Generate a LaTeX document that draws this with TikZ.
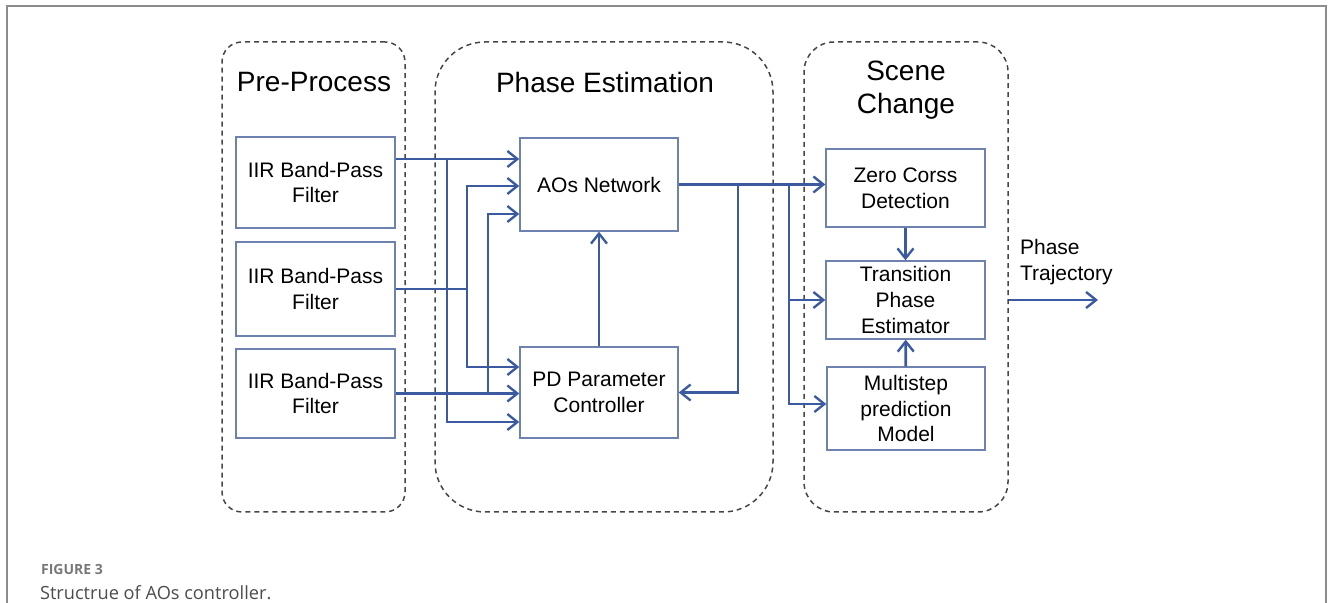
\documentclass[tikz,border=0pt]{standalone}
\usepackage{fontspec}
\setmainfont{Liberation Sans}
\newfontfamily\capfont{Open Sans}
\usepackage{tikz}
\usetikzlibrary{arrows.meta,positioning,calc}

\definecolor{flowblue}{RGB}{59,90,160}
\definecolor{boxline}{RGB}{110,130,175}
\definecolor{grpline}{RGB}{70,70,70}
\definecolor{framegray}{RGB}{140,140,140}
\definecolor{capgray}{RGB}{120,120,120}

\tikzset{
  blk/.style={draw=boxline, line width=0.7pt, fill=white, align=center,
    font=\fontsize{10.5}{12.8}\selectfont, inner sep=0pt},
  grp/.style={draw=grpline, line width=0.75pt, dash pattern=on 2.5pt off 2pt,
    minimum height=235pt},
  ttl/.style={font=\fontsize{14}{16.5}\selectfont, align=center},
  flow/.style={draw=flowblue, line width=1.4pt,
    -{Straight Barb[length=5pt,width=8pt,line width=1.2pt]}},
  wire/.style={draw=flowblue, line width=1.4pt}
}

\begin{document}
\begin{tikzpicture}[x=0.5pt,y=-0.5pt]
  \useasboundingbox (0,0) rectangle (1330,603);
  % outer frame
  \draw[framegray, line width=1.2pt] (7,603) -- (7,6) -- (1326,6) -- (1326,603);

  % groups
  \node[grp, rounded corners=10pt, minimum width=91.5pt] (gpre) at (313.5,277) {};
  \node[grp, rounded corners=25pt, minimum width=169pt] (gpe) at (604,277) {};
  \node[grp, rounded corners=15pt, minimum width=102pt] (gsc) at (906,277) {};
  \node[ttl] (tpre) at (314,82) {Pre-Process};
  \node[ttl] (tpe) at (605,82) {Phase Estimation};
  \node[ttl] (tsc) at (906,90) {Scene\\Change};

  % blocks
  \node[blk, minimum width=79.5pt, minimum height=45.5pt] (f1) at (315.5,182.5) {IIR Band-Pass\\Filter};
  \node[blk, minimum width=79.5pt, minimum height=47pt] (f2) at (315.5,289) {IIR Band-Pass\\Filter};
  \node[blk, minimum width=79.5pt, minimum height=44.5pt] (f3) at (315.5,393.5) {IIR Band-Pass\\Filter};
  \node[blk, minimum width=79pt, minimum height=46.5pt] (aos) at (599,184.5) {AOs Network};
  \node[blk, minimum width=79pt, minimum height=45.5pt] (pd) at (599,392.5) {PD Parameter\\Controller};
  \node[blk, minimum width=79.5pt, minimum height=39pt] (zc) at (905.5,188) {Zero Corss\\Detection};
  \node[blk, minimum width=79.5pt, minimum height=39pt] (tpest) at (905.5,300) {Transition\\Phase\\Estimator};
  \node[blk, minimum width=79pt, minimum height=41.5pt] (msp) at (906,408.5) {Multistep\\prediction\\Model};
  \node[ttl, font=\fontsize{10.5}{12.8}\selectfont, align=left, anchor=west] (traj) at (1013,262) {Phase\\Trajectory};

  % branch points
  \coordinate (b1) at (447,159);
  \coordinate (b1d) at (447,422);
  \coordinate (b2) at (467,289);
  \coordinate (b2u) at (467,186);
  \coordinate (b2d) at (467,367);
  \coordinate (b3) at (488,393.5);
  \coordinate (b3u) at (488,214);
  \coordinate (c1) at (738,184.5);
  \coordinate (c2) at (789,184.5);
  \coordinate (c2d) at (789,404);
  \coordinate (out) at (1098,300);

  % filters to estimation
  \draw[flow] (f1.east |- b1) -- (aos.west |- b1);
  \draw[flow] (b1) -- (b1d) -- (pd.west |- b1d);
  \draw[wire] (f2.east) -- (b2);
  \draw[flow] (b2) -- (b2u) -- (aos.west |- b2u);
  \draw[flow] (b2) -- (b2d) -- (pd.west |- b2d);
  \draw[flow] (f3.east) -- (pd.west |- f3.east);
  \draw[flow] (b3) -- (b3u) -- (aos.west |- b3u);
  \draw[flow] (pd) -- (aos);

  % estimation to scene change
  \draw[flow] (aos.east) -- (zc.west |- aos.east);
  \draw[flow] (c1) |- (pd.east);
  \draw[flow] (c2) |- (tpest.west);
  \draw[flow] (c2) -- (c2d) -- (msp.west |- c2d);
  \draw[flow] (zc) -- (tpest);
  \draw[flow] (msp) -- (tpest);
  \draw[flow] (gsc.east |- tpest.east) -- (out);

  % caption
  \node[anchor=west, text=capgray, font=\capfont\fontsize{7}{8}\selectfont\bfseries] (fig) at (34,570) {FIGURE 3};
  \node[anchor=west, text=black!70, font=\capfont\fontsize{9.1}{10.5}\selectfont] (cap) at (33,593) {Structrue of AOs controller.};
\end{tikzpicture}
\end{document}
